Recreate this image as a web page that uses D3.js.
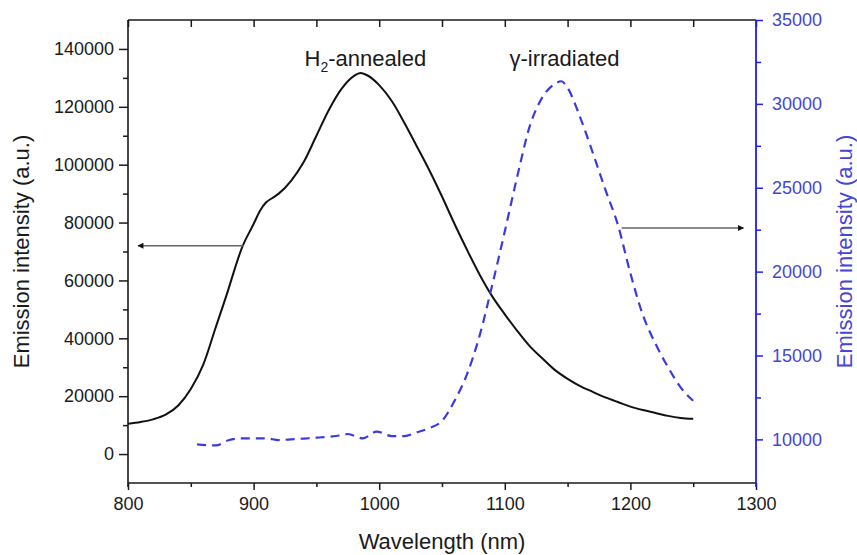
<!DOCTYPE html>
<html>
<head>
<meta charset="utf-8">
<script src="https://cdn.jsdelivr.net/npm/d3@7"></script>
<style>
  body { margin: 0; background: #fff; }
  svg { display: block; font-family: "Liberation Sans", Arial, sans-serif; }
</style>
</head>
<body>
<div id="chart"></div>
<script>
// H2-annealed spectrum (left axis)
const annealedWl = [800, 810, 820, 830, 840, 850, 860, 870, 880, 885, 890, 900, 905, 910, 915, 920, 930, 940, 950, 960, 970, 980, 985, 990, 1000, 1010, 1020, 1030, 1040, 1050, 1060, 1070, 1080, 1090, 1100, 1110, 1120, 1130, 1140, 1150, 1160, 1170, 1180, 1190, 1200, 1210, 1220, 1230, 1240, 1250];
const annealedVal = [10500, 11100, 12000, 13600, 16800, 22500, 31000, 44000, 57000, 64000, 70500, 79500, 84000, 87000, 88500, 90000, 94500, 101000, 110000, 119000, 126200, 130700, 131700, 131000, 127500, 122000, 114500, 106300, 98000, 89000, 79500, 70500, 62000, 54500, 48300, 42500, 37200, 33000, 29000, 26000, 23500, 21500, 19600, 18000, 16400, 15200, 14200, 13200, 12500, 12200];

// gamma-irradiated spectrum (right axis)
const irradWl = [855, 870, 880, 890, 900, 910, 920, 930, 940, 950, 960, 970, 975, 987, 998, 1010, 1020, 1030, 1040, 1050, 1060, 1070, 1080, 1090, 1100, 1110, 1120, 1130, 1140, 1145, 1150, 1160, 1170, 1180, 1190, 1200, 1210, 1220, 1230, 1240, 1250];
const irradVal = [9700, 9640, 9950, 10060, 10060, 10060, 9960, 10000, 10050, 10100, 10160, 10250, 10320, 10060, 10460, 10200, 10200, 10420, 10680, 11100, 12300, 13900, 16200, 19200, 22400, 25700, 28700, 30400, 31200, 31350, 30950, 29200, 27100, 24900, 22800, 19900, 17400, 15700, 14300, 13100, 12300];

const xTicks = [800, 900, 1000, 1100, 1200, 1300];
const xMinor = [850, 950, 1050, 1150, 1250];
const leftTicks = [0, 20000, 40000, 60000, 80000, 100000, 120000, 140000];
const leftMinor = [10000, 30000, 50000, 70000, 90000, 110000, 130000];
const rightTicks = [10000, 15000, 20000, 25000, 30000, 35000];
const rightMinor = [12500, 17500, 22500, 27500, 32500];

const width = 857, height = 555;
const margin = {top: 20, right: 101, bottom: 72, left: 128};
const blueAxis = "#1f1ff0", blueText = "#4545d6", blueLine = "#3a3ae2";

const svg = d3.select("#chart").append("svg")
    .attr("width", width)
    .attr("height", height);

const x = d3.scaleLinear().domain([800, 1300]).range([margin.left, width - margin.right]);
const yL = d3.scaleLinear().domain([-10000, 150000]).range([height - margin.bottom, margin.top]);
const yR = d3.scaleLinear().domain([7400, 35000]).range([height - margin.bottom, margin.top]);

const x0 = margin.left, x1 = width - margin.right;
const y0 = height - margin.bottom, y1 = margin.top;

// bottom axis
const bottomAxis = svg.append("g").attr("transform", `translate(0,${y0})`);
bottomAxis.call(d3.axisBottom(x).tickValues(xTicks).tickSize(7).tickPadding(7).tickFormat(d3.format("d")));
bottomAxis.append("g").call(d3.axisBottom(x).tickValues(xMinor).tickSize(4).tickFormat(""));

// top axis (ticks pointing in)
const topAxis = svg.append("g").attr("transform", `translate(0,${y1})`);
topAxis.call(d3.axisBottom(x).tickValues(xTicks.concat(xMinor)).tickSize(7).tickFormat(""));

// left axis
const leftAxis = svg.append("g").attr("transform", `translate(${x0},0)`);
leftAxis.call(d3.axisLeft(yL).tickValues(leftTicks).tickSize(9).tickPadding(5).tickFormat(d3.format("d")));
leftAxis.append("g").call(d3.axisLeft(yL).tickValues(leftMinor).tickSize(5).tickFormat(""));

// right axis (blue)
const rightAxis = svg.append("g").attr("transform", `translate(${x1},0)`);
rightAxis.call(d3.axisRight(yR).tickValues(rightTicks).tickSize(7).tickPadding(9).tickFormat(d3.format("d")));
rightAxis.append("g").call(d3.axisRight(yR).tickValues(rightMinor).tickSize(5).tickFormat(""));

svg.selectAll(".domain").remove();
svg.selectAll(".tick text").attr("font-size", 18).attr("fill", "#1a1a1a").attr("font-family", "Liberation Sans, Arial, sans-serif");
svg.selectAll(".tick line").attr("stroke", "#1a1a1a").attr("stroke-width", 1.5);
rightAxis.selectAll(".tick line").attr("stroke", blueAxis);
rightAxis.selectAll(".tick text").attr("fill", blueText);

// frame
svg.append("line").attr("x1", x0).attr("x2", x1).attr("y1", y1).attr("y2", y1).attr("stroke", "#1a1a1a").attr("stroke-width", 1.6);
svg.append("line").attr("x1", x0).attr("x2", x1).attr("y1", y0).attr("y2", y0).attr("stroke", "#1a1a1a").attr("stroke-width", 1.6);
svg.append("line").attr("x1", x0).attr("x2", x0).attr("y1", y1).attr("y2", y0 + 4).attr("stroke", "#1a1a1a").attr("stroke-width", 1.6);
svg.append("line").attr("x1", x1).attr("x2", x1).attr("y1", y1).attr("y2", y0 + 4).attr("stroke", blueAxis).attr("stroke-width", 1.8);

// curves
const annealed = annealedWl.map((w, i) => [w, annealedVal[i]]);
const irrad = irradWl.map((w, i) => [w, irradVal[i]]);

svg.append("path")
    .datum(annealed)
    .attr("fill", "none")
    .attr("stroke", "#111")
    .attr("stroke-width", 2)
    .attr("d", d3.line().x(d => x(d[0])).y(d => yL(d[1])).curve(d3.curveMonotoneX));

svg.append("path")
    .datum(irrad)
    .attr("fill", "none")
    .attr("stroke", blueLine)
    .attr("stroke-width", 2.2)
    .attr("stroke-dasharray", "9,6")
    .attr("d", d3.line().x(d => x(d[0])).y(d => yR(d[1])).curve(d3.curveMonotoneX));

// arrows
const defs = svg.append("defs");
defs.append("marker")
    .attr("id", "head")
    .attr("viewBox", "0 0 10 10")
    .attr("refX", 9).attr("refY", 5)
    .attr("markerWidth", 8).attr("markerHeight", 6)
    .attr("markerUnits", "userSpaceOnUse")
    .attr("orient", "auto")
    .append("path").attr("d", "M0,0 L10,5 L0,10 Z").attr("fill", "#111");

svg.append("line")
    .attr("x1", x(892)).attr("x2", x(808))
    .attr("y1", yL(72000)).attr("y2", yL(72000))
    .attr("stroke", "#666").attr("stroke-width", 1.4)
    .attr("marker-end", "url(#head)");

svg.append("line")
    .attr("x1", x(1193)).attr("x2", x(1290))
    .attr("y1", yR(22600)).attr("y2", yR(22600))
    .attr("stroke", "#666").attr("stroke-width", 1.4)
    .attr("marker-end", "url(#head)");

// labels
const h2 = svg.append("text")
    .attr("x", x(989)).attr("y", yL(134000))
    .attr("text-anchor", "middle")
    .attr("font-size", 22).attr("fill", "#1a1a1a");
h2.append("tspan").text("H");
h2.append("tspan").attr("font-size", 14).attr("dy", 6).text("2");
h2.append("tspan").attr("dy", -6).text("-annealed");

svg.append("text")
    .attr("x", x(1147.5)).attr("y", yR(32260))
    .attr("text-anchor", "middle")
    .attr("font-size", 22).attr("fill", "#1a1a1a")
    .text("γ-irradiated");

// axis titles
svg.append("text")
    .attr("x", (x0 + x1) / 2).attr("y", 549)
    .attr("text-anchor", "middle")
    .attr("font-size", 22).attr("fill", "#1a1a1a")
    .text("Wavelength (nm)");

svg.append("text")
    .attr("transform", `translate(29,${(y0 + y1) / 2}) rotate(-90)`)
    .attr("text-anchor", "middle")
    .attr("font-size", 22).attr("fill", "#1a1a1a")
    .text("Emission intensity (a.u.)");

svg.append("text")
    .attr("transform", `translate(852,${(y0 + y1) / 2}) rotate(-90)`)
    .attr("text-anchor", "middle")
    .attr("font-size", 22).attr("fill", blueText)
    .text("Emission intensity (a.u.)");
</script>
</body>
</html>
